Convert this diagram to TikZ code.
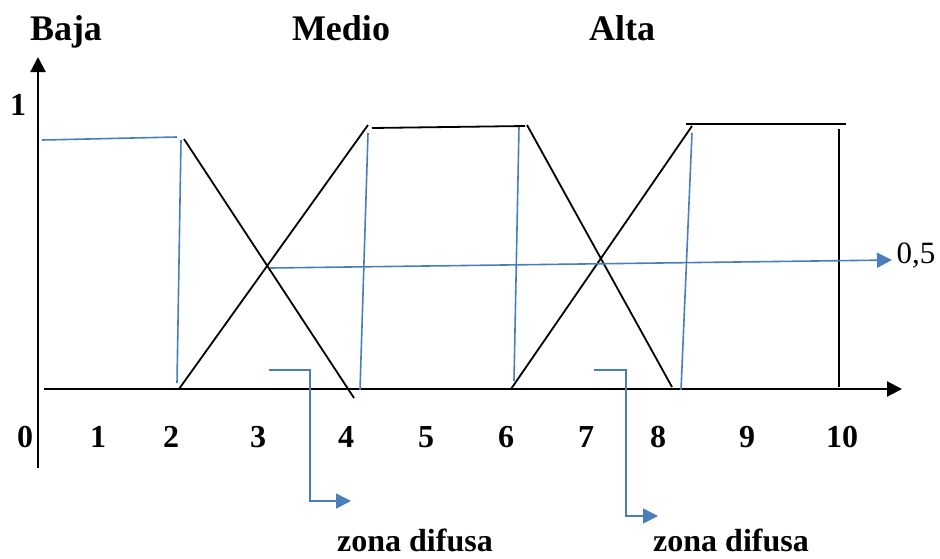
\documentclass[tikz,border=0pt]{standalone}
\usepackage{fontspec}
\setmainfont{Liberation Serif}
\usetikzlibrary{arrows.meta}
\definecolor{lineblue}{RGB}{74,126,187}

\begin{document}
\begin{tikzpicture}[x=1pt,y=-1pt,
  axis/.style={line width=2.2pt,-{Triangle[length=15pt,width=15pt]}},
  curve/.style={line width=1.8pt},
  guide/.style={lineblue,line width=1.6pt},
  guidearrow/.style={guide,-{Triangle[length=15pt,width=15pt]}},
  title/.style={anchor=base,font=\fontsize{36}{40}\selectfont\bfseries},
  tick/.style={anchor=base,font=\fontsize{32}{36}\selectfont\bfseries}]
\useasboundingbox (0,0) rectangle (940,558);
% axes
\draw[axis] (38,468) -- (38,57);
\draw[axis] (44,389) -- (902,389);
% titles
\node[title] (baja) at (66,40) {Baja};
\node[title] (medio) at (341,40) {Medio};
\node[title] (alta) at (622,40) {Alta};
\node[tick] (uno) at (18,115) {1};
\node[anchor=base,font=\fontsize{31}{36}\selectfont] (mitad) at (916,263) {0,5};
% x ticks
\node[tick] (x0) at (25,447) {0};
\node[tick] (x1) at (98,447) {1};
\node[tick] (x2) at (171,447) {2};
\node[tick] (x3) at (258,447) {3};
\node[tick] (x4) at (346,447) {4};
\node[tick] (x5) at (426,447) {5};
\node[tick] (x6) at (506,447) {6};
\node[tick] (x7) at (586,447) {7};
\node[tick] (x8) at (658,447) {8};
\node[tick] (x9) at (747,447) {9};
\node[tick] (x10) at (842,447) {10};
% black membership lines
\draw[curve] (184,139) -- (354,398);
\draw[curve] (179,389) -- (368,125);
\draw[curve] (372,128) -- (525,126);
\draw[curve] (527,125) -- (672,387);
\draw[curve] (511,389) -- (692,126);
\draw[curve] (686,124) -- (846,124);
\draw[curve] (839,129) -- (839,387);
% blue lines
\draw[guide] (42,140) -- (177,137);
\draw[guide] (181,140) -- (177,383);
\draw[guide] (368,133) -- (360,390);
\draw[guide] (519,127) -- (514,381);
\draw[guide] (692,133) -- (681,390);
\draw[guidearrow] (270,268) -- (892,260);
% zona difusa
\draw[guidearrow] (269,370) -- (310,370) -- (310,501) -- (351,501);
\draw[guidearrow] (594,370) -- (626,370) -- (626,516) -- (658,516);
\node[anchor=base,font=\fontsize{32}{36}\selectfont\bfseries] (zona1) at (415,551) {zona difusa};
\node[anchor=base,font=\fontsize{32}{36}\selectfont\bfseries] (zona2) at (731,551) {zona difusa};
\end{tikzpicture}
\end{document}
